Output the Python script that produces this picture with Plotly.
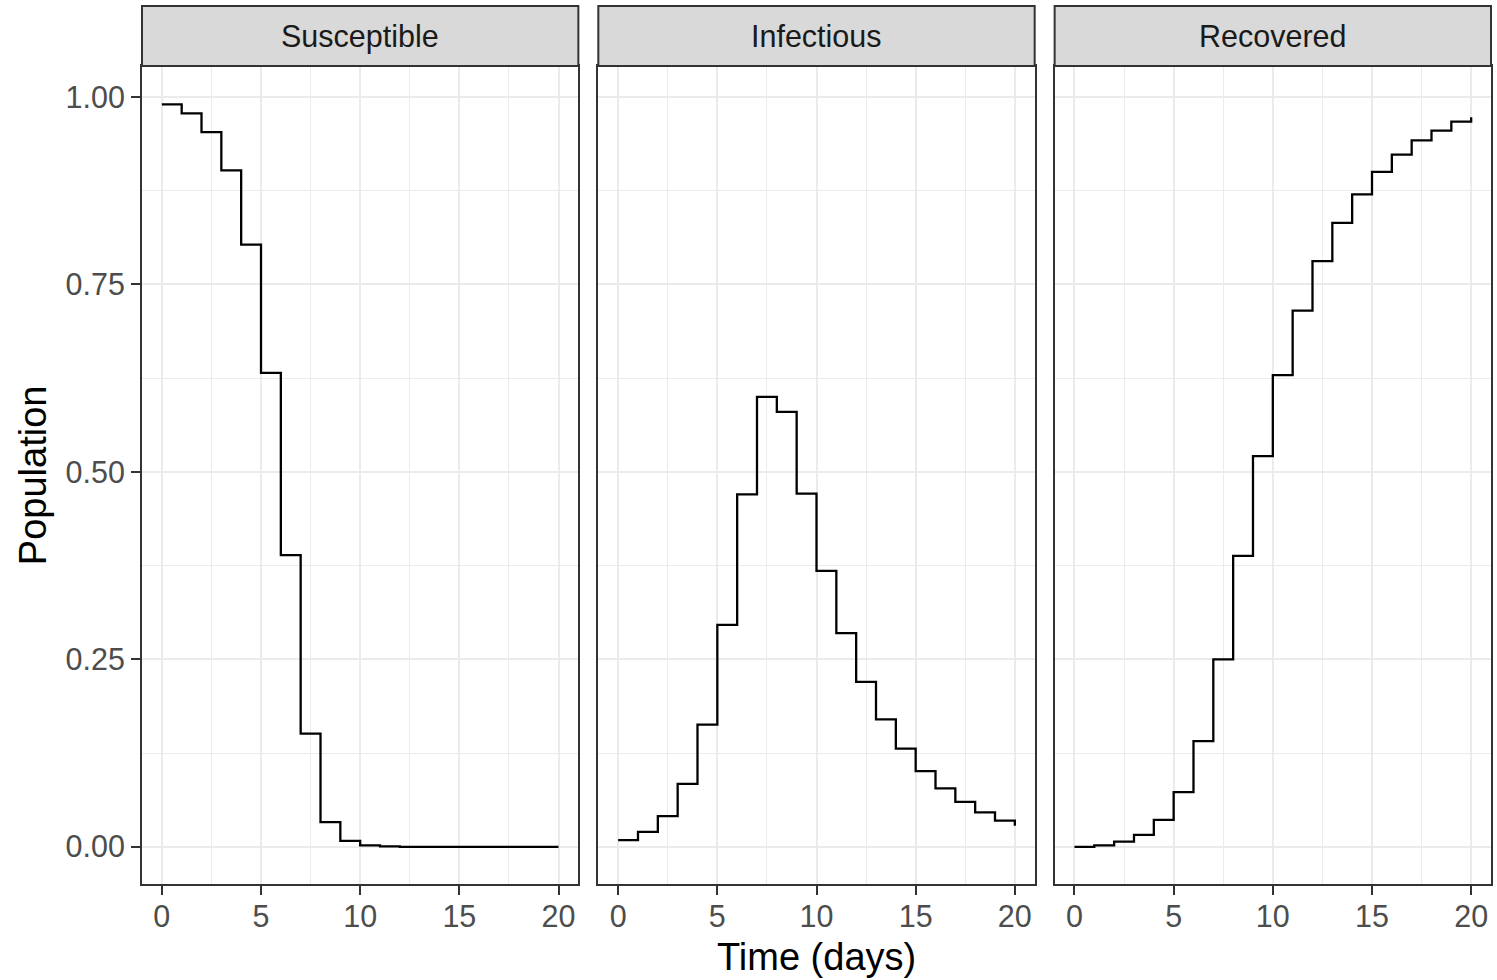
import plotly.graph_objects as go

# ---- data ----
days = list(range(21))
compartments = ["Susceptible", "Infectious", "Recovered"]
susceptible = [0.990, 0.978, 0.953, 0.902, 0.803, 0.632, 0.389, 0.151, 0.033, 0.008,
               0.002, 0.0005, 0.0, 0.0, 0.0, 0.0, 0.0, 0.0, 0.0, 0.0, 0.0]
infectious = [0.009, 0.020, 0.041, 0.084, 0.163, 0.296, 0.470, 0.600, 0.580, 0.471,
              0.368, 0.285, 0.220, 0.170, 0.131, 0.101, 0.078, 0.060, 0.046, 0.035, 0.028]
recovered = [0.0, 0.002, 0.007, 0.016, 0.036, 0.073, 0.141, 0.250, 0.388, 0.521,
             0.629, 0.715, 0.781, 0.832, 0.870, 0.900, 0.923, 0.942, 0.955, 0.967, 0.973]
series = [susceptible, infectious, recovered]
x_ticks = [0, 5, 10, 15, 20]
y_ticks = [0.0, 0.25, 0.5, 0.75, 1.0]

# ---- layout geometry (pixels) ----
W, H = 1497, 980
ML, MR, MT, MB = 142, 4, 66, 96
PW = W - ML - MR
PH = H - MT - MB
panel_px = [(142, 579), (599, 1036), (1056, 1493)]
domains = [((a - ML) / PW, (b - ML) / PW) for a, b in panel_px]
strip_h = 60 / PH

FONT = "Liberation Sans, Arial, sans-serif"
BORDER = "#333333"
GRID = "#EBEBEB"
TICK_SIZE = 30.5

fig = go.Figure()
for i, (name, vals) in enumerate(zip(compartments, series)):
    sfx = "" if i == 0 else str(i + 1)
    fig.add_trace(go.Scatter(
        x=days, y=vals, mode="lines", line=dict(shape="hv", color="black", width=2.3),
        xaxis="x" + sfx, yaxis="y" + sfx, showlegend=False, name=name))

layout = dict(
    width=W, height=H,
    margin=dict(l=ML, r=MR, t=MT, b=MB, pad=0),
    paper_bgcolor="white", plot_bgcolor="white",
    font=dict(family=FONT, size=TICK_SIZE, color="#4D4D4D"),
    showlegend=False,
)

for i in range(3):
    sfx = "" if i == 0 else str(i + 1)
    layout["xaxis" + sfx] = dict(
        domain=list(domains[i]), range=[-1, 21], anchor="y" + sfx,
        tickmode="array", tickvals=x_ticks, ticktext=[str(v) for v in x_ticks],
        ticks="outside", ticklen=9, tickwidth=2, tickcolor=BORDER,
        ticklabelstandoff=-5,
        tickfont=dict(family=FONT, size=TICK_SIZE, color="#4D4D4D"),
        showgrid=True, gridcolor=GRID, gridwidth=2,
        minor=dict(tickmode="array", tickvals=[2.5, 7.5, 12.5, 17.5],
                   showgrid=True, gridcolor=GRID, gridwidth=1, ticks=""),
        showline=True, linecolor=BORDER, linewidth=2, mirror=True,
        zeroline=False, fixedrange=True,
    )
    layout["yaxis" + sfx] = dict(
        domain=[0, 1], range=[-0.0496, 1.0413], anchor="x" + sfx,
        tickmode="array", tickvals=y_ticks, ticktext=["%.2f" % v for v in y_ticks],
        ticks="outside" if i == 0 else "", ticklen=9, tickwidth=2, tickcolor=BORDER,
        showticklabels=(i == 0),
        tickfont=dict(family=FONT, size=TICK_SIZE, color="#4D4D4D"),
        showgrid=True, gridcolor=GRID, gridwidth=2,
        minor=dict(tickmode="array", tickvals=[0.125, 0.375, 0.625, 0.875],
                   showgrid=True, gridcolor=GRID, gridwidth=1, ticks=""),
        showline=True, linecolor=BORDER, linewidth=2, mirror=True,
        zeroline=False, fixedrange=True,
    )

shapes = []
annotations = []
for i, name in enumerate(compartments):
    x0, x1 = domains[i]
    shapes.append(dict(type="rect", xref="paper", yref="paper",
                       x0=x0, x1=x1, y0=1, y1=1 + strip_h,
                       fillcolor="#D9D9D9", line=dict(color=BORDER, width=2), layer="above"))
    annotations.append(dict(text=name, xref="paper", yref="paper",
                            x=(x0 + x1) / 2, y=1 + strip_h / 2, showarrow=False,
                            xanchor="center", yanchor="middle",
                            font=dict(family=FONT, size=TICK_SIZE, color="#1A1A1A")))

annotations.append(dict(text="Time (days)", xref="paper", yref="paper",
                        x=(817 - ML) / PW, y=-(957 - (H - MB)) / PH, showarrow=False,
                        xanchor="center", yanchor="middle",
                        font=dict(family=FONT, size=38, color="black")))
annotations.append(dict(text="Population", xref="paper", yref="paper",
                        x=(33 - ML) / PW, y=(H - MB - 475) / PH, showarrow=False,
                        textangle=-90, xanchor="center", yanchor="middle",
                        font=dict(family=FONT, size=38, color="black")))

layout["shapes"] = shapes
layout["annotations"] = annotations
fig.update_layout(**layout)

fig.write_html(
    "out.html",
    config={"displayModeBar": False},
    post_script="document.body.style.margin='0';document.body.style.overflow='hidden';",
)
